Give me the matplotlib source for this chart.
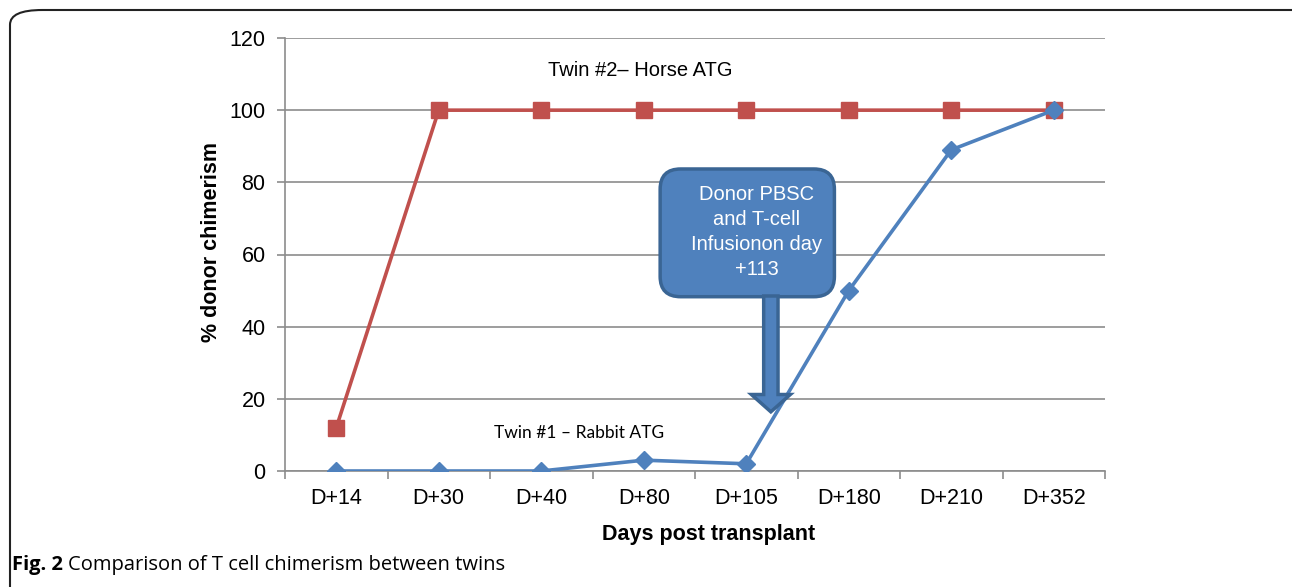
import numpy as np
import matplotlib
matplotlib.use("Agg")
import matplotlib.pyplot as plt
from matplotlib.patches import FancyBboxPatch, Polygon
from matplotlib.ticker import FixedLocator

days = ["D+14", "D+30", "D+40", "D+80", "D+105", "D+180", "D+210", "D+352"]
twin2_horse = [12, 100, 100, 100, 100, 100, 100, 100]
twin1_rabbit = [0, 0, 0, 3, 2, 50, 89, 100]
yticks = [0, 20, 40, 60, 80, 100, 120]

red = "#C0504D"
blue = "#4F81BD"
edge = "#3A6594"
grid_c = "#8C8C8C"

plt.rcParams["font.family"] = ["Liberation Sans", "DejaVu Sans"]

fig = plt.figure(figsize=(12.92, 5.87), dpi=100)
ax = fig.add_axes([285 / 1292, 1 - 471 / 587, 820 / 1292, 433 / 587])

x = np.arange(len(days))
ax.plot(x, twin2_horse, color=red, lw=2.6, marker="s", ms=11.5, mec=red, mfc=red, zorder=4)
ax.plot(x, twin1_rabbit, color=blue, lw=2.6, marker="D", ms=9, mec=blue, mfc=blue, zorder=4)

ax.set_xlim(-0.5, len(days) - 0.5)
ax.set_ylim(0, 120)
ax.set_yticks(yticks)
ax.set_yticklabels([str(v) for v in yticks], fontsize=15.5)
ax.set_xticks(x)
ax.set_xticklabels(days, fontsize=15.5)
ax.xaxis.set_minor_locator(FixedLocator(np.arange(-0.5, len(days), 1.0)))
ax.tick_params(axis="x", which="major", length=0, pad=12)
ax.tick_params(axis="x", which="minor", length=6, color=grid_c, width=1.2, direction="out")
ax.tick_params(axis="y", length=6, color=grid_c, width=1.2, pad=8)
ax.yaxis.grid(True, color=grid_c, lw=1.2)
ax.set_axisbelow(True)
for s in ["top", "right"]:
    ax.spines[s].set_visible(False)
for s in ["left", "bottom"]:
    ax.spines[s].set_color(grid_c)
    ax.spines[s].set_linewidth(1.2)

ax.set_xlabel("Days post transplant", fontsize=15.5, fontweight="bold", labelpad=11)
ax.set_ylabel("% donor chimerism", fontsize=15.5, fontweight="bold", labelpad=5)
ax.xaxis.label.set_x(0.516)
ax.yaxis.label.set_y(0.53)

ax.text(2.97, 111, "Twin #2\u2013 Horse ATG", fontsize=14.5, ha="center", va="center")
ax.text(2.37, 10.5, "Twin #1 \u2013 Rabbit ATG", fontsize=12.5, ha="center", va="center",
        family=["Lato", "DejaVu Sans"])

# callout: box + down arrow at day +113
box = FancyBboxPatch((3.16, 48.3), 1.7, 35.4, boxstyle="round,pad=0,rounding_size=0.2",
                     mutation_aspect=28, fc=blue, ec=edge, lw=2.5, zorder=5)
ax.add_patch(box)
arrow = Polygon([(4.17, 48.5), (4.17, 21.2), (4.05, 21.2), (4.24, 16.4),
                 (4.43, 21.2), (4.31, 21.2), (4.31, 48.5)],
                closed=True, fc=blue, ec=edge, lw=2.5, zorder=5)
ax.add_patch(arrow)
ax.text(4.1, 66.3, "Donor PBSC\nand T-cell\nInfusionon day\n+113", color="white", fontsize=14.5,
        ha="center", va="center", linespacing=1.4, zorder=6)

# outer rounded frame and caption
frame = FancyBboxPatch((10 / 1292, -0.05), 1.2, 1 - 10 / 587 + 0.05,
                       boxstyle="round,pad=0,rounding_size=0.025", transform=fig.transFigure,
                       fc="none", ec="#222222", lw=1.5, clip_on=False)
fig.patches.append(frame)
cap = fig.text(12 / 1292, 1 - 565 / 587, "Fig. 2", fontsize=14.5, fontweight="bold", va="center",
               family=["Open Sans", "DejaVu Sans"])
fig.canvas.draw()
bb = cap.get_window_extent()
fig.text((bb.x1 + 5) / 1292, 1 - 565 / 587, "Comparison of T cell chimerism between twins",
         fontsize=14.5, va="center", family=["Open Sans", "DejaVu Sans"])

fig.savefig("out.png", dpi=100)
